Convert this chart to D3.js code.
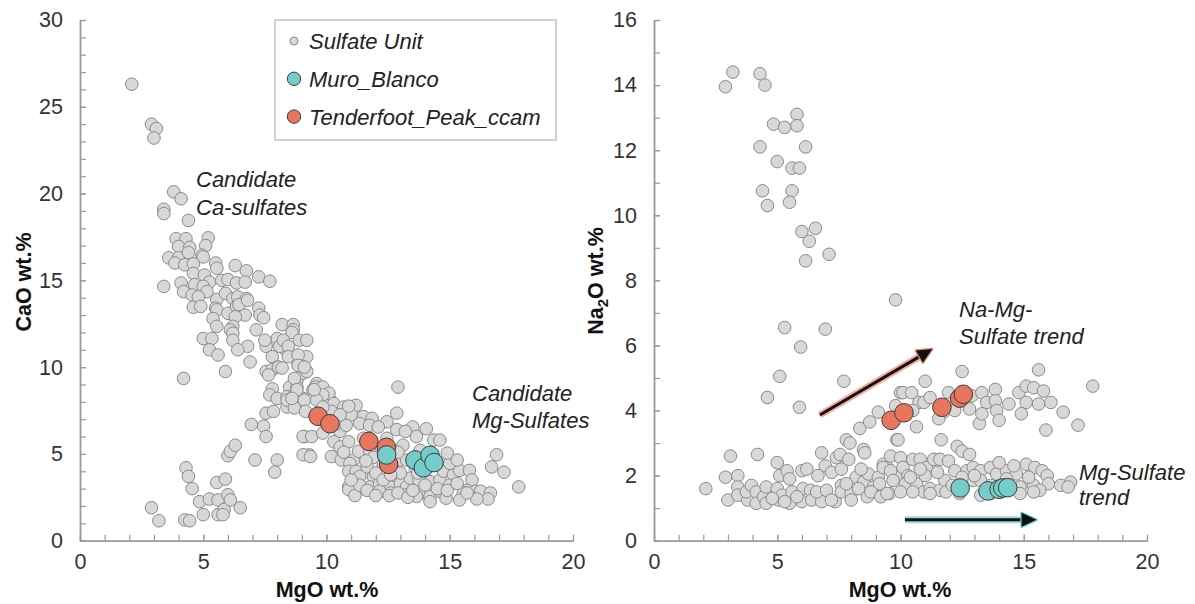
<!DOCTYPE html>
<html>
<head>
<meta charset="utf-8">
<script src="https://cdn.jsdelivr.net/npm/d3@7"></script>
<style>
body { margin: 0; background: #fff; }
svg { font-family: "Liberation Sans", Arial, Helvetica, sans-serif; }
</style>
</head>
<body>
<div id="chart"></div>
<script>
// ---- data: [MgO, CaO] and [MgO, Na2O] wt.% ----
var sulfateCaO = [
    [2.1, 26.3], [2.9, 24.0], [3.1, 23.75], [3.0, 23.2],
    [3.8, 20.1], [4.1, 19.7], [3.4, 19.1], [3.4, 18.85], [4.4, 18.45],
    [3.9, 17.4], [4.3, 17.4], [5.2, 17.45], [5.1, 17.0], [4.0, 16.95], [4.45, 16.9],
    [3.6, 16.3], [4.0, 16.3], [4.4, 16.6], [4.95, 16.45], [5.0, 16.35],
    [3.85, 16.0], [4.25, 15.9], [4.6, 15.95], [5.5, 16.0], [5.55, 15.7], [6.3, 15.85], [6.75, 15.55],
    [4.6, 15.4], [5.05, 15.3], [5.25, 14.9], [5.75, 15.0], [6.0, 15.05], [6.35, 14.85], [6.7, 14.9], [7.25, 15.2], [7.7, 14.95],
    [3.4, 14.65], [4.1, 14.85], [4.2, 14.35], [4.65, 14.75], [5.0, 14.65], [5.15, 14.35],
    [4.55, 14.15], [4.8, 14.05], [5.55, 13.9], [5.9, 14.25], [6.2, 13.95], [6.4, 14.05], [6.75, 13.95],
    [4.6, 13.45], [4.9, 13.5], [5.5, 13.4], [5.55, 13.3], [6.0, 13.1], [6.35, 13.5], [6.7, 13.0], [7.25, 13.4],
    [7.3, 13.0], [7.45, 12.85], [6.45, 13.6], [6.8, 13.85],
    [5.4, 12.8], [5.55, 12.35], [6.3, 12.9], [6.2, 12.35], [6.1, 12.15], [7.15, 12.15], [8.2, 12.45], [8.65, 12.45], [8.65, 12.15], [8.6, 12.0],
    [5.0, 11.65], [5.35, 11.65], [6.2, 11.95], [6.2, 11.55], [6.8, 11.2], [7.55, 11.2], [8.0, 11.65], [7.5, 11.55], [8.3, 11.05],
    [8.9, 11.55], [9.2, 11.55], [8.1, 11.2], [8.25, 11.55], [8.45, 11.2],
    [5.25, 11.0], [5.6, 10.7], [6.4, 11.0], [6.9, 10.3], [7.8, 10.6], [8.0, 10.0], [8.45, 10.6], [8.85, 10.2], [9.2, 10.6], [5.9, 9.75], [8.85, 10.7],
    [4.2, 9.35],
    [7.55, 9.75], [7.8, 9.85], [8.05, 10.0], [8.8, 9.25], [9.05, 9.65], [8.6, 8.95], [8.5, 8.85], [8.8, 8.85], [9.6, 9.05], [7.65, 9.55],
    [8.2, 9.95], [9.2, 9.75], [9.0, 10.05],
    [7.8, 8.75], [7.7, 8.4], [8.0, 8.2], [8.4, 8.3], [8.7, 8.4], [9.05, 8.2], [9.45, 8.7], [9.8, 8.7], [10.0, 8.4], [8.4, 7.7],
    [7.55, 7.35], [7.85, 7.45], [8.4, 8.1], [8.8, 8.2], [8.7, 7.65], [9.1, 8.1], [9.75, 8.8], [10.15, 8.1],
    [6.95, 6.7], [7.45, 6.6], [7.55, 6.0], [7.1, 4.65], [8.0, 4.65], [7.9, 3.95],
    [2.9, 1.9], [3.2, 1.15], [4.3, 4.2], [4.4, 3.7], [4.55, 3.0], [4.85, 2.25], [5.0, 1.5], [5.25, 2.4], [5.55, 3.35], [5.6, 2.35],
    [5.6, 1.5], [5.85, 1.8], [5.8, 1.5], [5.9, 3.55], [6.0, 2.65], [6.1, 2.35], [6.5, 1.9], [6.0, 4.9], [6.1, 5.15], [6.3, 5.5],
    [4.25, 1.2], [4.45, 1.15],
    [9.1, 6.0], [9.3, 4.95], [9.05, 4.95],
    [9.55, 8.85], [9.85, 8.85], [10.1, 8.5], [9.85, 8.4], [9.6, 8.1], [10.3, 7.9], [10.7, 7.7], [10.95, 7.55], [11.2, 7.8], [11.0, 7.25],
    [11.5, 7.15], [11.85, 7.05], [12.85, 7.35], [12.45, 6.85], [11.35, 6.75], [11.75, 6.65], [12.1, 6.55], [13.5, 6.55], [12.85, 6.4],
    [13.2, 6.3], [13.65, 6.0], [14.05, 6.45],
    [9.15, 7.45], [9.05, 6.0], [9.4, 6.0], [9.85, 6.2], [10.55, 6.3], [10.3, 5.7], [10.55, 5.4], [10.9, 5.7], [9.35, 4.85], [10.2, 4.85],
    [10.6, 4.65], [11.1, 4.65], [11.3, 5.15], [10.95, 4.45], [10.9, 4.0], [11.2, 4.0], [11.65, 4.25], [11.35, 3.7], [11.9, 3.7],
    [10.9, 3.1], [11.2, 3.1], [11.5, 3.0], [11.75, 3.1], [12.15, 3.3], [12.6, 3.1], [13.0, 3.3], [13.25, 3.1], [13.4, 3.6], [13.75, 3.5],
    [14.2, 3.4], [14.6, 3.5], [14.75, 4.0], [15.15, 3.8], [15.4, 4.05], [15.8, 4.05], [15.0, 4.45], [15.3, 4.65], [15.9, 3.5], [15.7, 2.9],
    [15.55, 2.75], [16.05, 2.85], [16.25, 2.85], [16.65, 2.75], [16.7, 4.25], [16.9, 4.95], [17.2, 3.95], [17.8, 3.1], [16.55, 2.4], [16.1, 2.4],
    [13.95, 2.75], [14.2, 2.55], [13.65, 2.55], [13.25, 2.65], [12.6, 2.75], [12.15, 2.85], [14.35, 5.8], [14.6, 5.8], [14.9, 5.05],
    [13.0, 4.65], [13.25, 4.65], [12.7, 4.05], [13.0, 3.9], [12.45, 5.9], [12.05, 5.05], [11.75, 5.2], [10.4, 6.75], [10.8, 6.65],
    [9.6, 7.15], [10.0, 7.15],
    [10.9, 2.95], [11.15, 2.6], [11.35, 3.2], [11.65, 2.9], [12.55, 2.6], [12.9, 2.75], [13.3, 2.5], [14.2, 2.25], [14.6, 2.85],
    [14.85, 2.45], [15.4, 2.35], [15.7, 2.75],
    [12.9, 8.85],
    [8.85, 10.1], [9.1, 10.0], [8.7, 9.35], [8.8, 8.7], [8.6, 8.2], [9.5, 8.7], [10.2, 7.45], [10.9, 7.75], [10.55, 7.25], [9.85, 7.7],
    [11.9, 4.8], [12.3, 4.4], [12.0, 3.9], [13.6, 4.2], [13.8, 5.2], [14.3, 4.4], [14.5, 3.0], [15.0, 3.2], [12.3, 3.5], [13.1, 5.5],
    [11.5, 5.9], [12.9, 5.1],
    [11.0, 3.5], [12.6, 3.8], [13.5, 2.9], [14.0, 3.2], [14.9, 2.9], [15.3, 3.3], [12.0, 2.6], [13.7, 3.9], [10.7, 5.1], [11.6, 4.6]
];
var tenderfootCaO = [[9.66, 7.17], [10.14, 6.74], [11.72, 5.72], [12.43, 5.38], [12.52, 4.4]];
var muroBlancoCaO = [[12.44, 4.94], [13.59, 4.65], [13.93, 4.2], [14.2, 4.92], [14.36, 4.5]];

var sulfateNa2O = [
    [2.9, 13.95], [3.2, 14.4], [4.3, 14.35], [4.5, 14.0], [4.85, 12.8], [5.3, 12.7], [5.8, 13.1], [5.8, 12.75], [4.3, 12.1], [6.15, 12.1],
    [5.0, 11.65], [5.6, 11.45], [5.9, 11.45], [4.4, 10.75], [4.6, 10.3], [5.6, 10.75], [5.5, 10.4], [6.0, 9.5], [6.55, 9.6], [6.3, 9.2],
    [6.15, 8.6], [7.1, 8.8], [9.8, 7.4],
    [5.3, 6.55], [6.95, 6.5], [5.95, 5.95], [5.1, 5.05], [7.7, 4.9], [4.6, 4.4], [5.9, 4.1],
    [2.1, 1.6], [2.9, 1.95], [3.1, 2.6], [3.0, 1.25], [4.2, 2.65], [5.0, 2.4], [3.4, 2.0], [6.8, 2.7], [6.95, 2.3],
    [3.4, 1.65], [3.4, 1.4], [3.8, 1.25], [3.75, 1.5], [3.95, 1.7], [4.15, 1.5], [4.15, 1.15], [4.45, 1.35], [4.55, 1.65], [4.55, 1.15],
    [5.0, 1.6], [5.05, 1.25], [5.1, 2.0], [5.2, 1.4], [5.4, 2.15], [5.5, 1.9], [5.5, 1.15], [5.6, 1.5], [6.0, 2.15], [6.2, 2.2],
    [6.05, 1.6], [6.0, 1.2], [6.35, 1.55], [6.4, 1.25], [6.65, 2.0], [6.8, 1.2], [7.2, 2.1], [7.35, 1.2], [7.4, 2.55], [7.55, 2.65],
    [7.6, 2.2], [7.6, 1.7], [7.6, 1.5], [7.9, 2.5], [7.8, 3.1], [7.95, 3.0], [8.0, 1.45], [8.0, 1.25], [8.2, 1.95], [8.35, 3.45],
    [8.5, 2.8], [8.55, 2.7], [8.5, 1.8], [8.65, 1.35], [8.7, 2.05], [8.75, 3.65], [8.9, 1.65], [9.1, 3.95], [9.1, 1.95], [9.15, 1.75],
    [9.3, 2.35], [9.45, 2.25], [9.55, 1.45], [9.85, 1.95], [9.85, 3.1], [9.8, 4.15], [10.0, 4.55],
    [4.8, 1.3], [5.3, 1.2], [5.8, 1.35], [6.6, 1.5], [7.0, 1.55], [7.2, 1.25], [7.8, 1.75], [8.3, 1.6], [8.8, 1.5], [9.2, 1.35],
    [8.4, 2.2], [9.6, 2.6],
    [12.5, 5.2], [15.6, 5.25], [17.8, 4.75], [11.0, 4.9],
    [10.1, 4.55], [10.45, 4.55], [10.75, 4.25], [10.95, 4.25], [11.2, 4.4], [11.95, 4.55], [12.0, 4.2], [12.4, 4.3], [12.9, 4.45],
    [13.3, 4.55], [13.5, 4.25], [13.85, 4.65], [13.85, 4.3], [14.4, 4.2], [14.8, 4.55], [15.1, 4.75], [15.4, 4.7], [15.8, 4.6],
    [15.1, 4.25], [15.6, 4.2], [16.1, 4.25], [16.6, 3.95], [17.2, 3.55], [15.9, 3.4], [14.9, 3.9], [13.9, 4.0], [14.0, 3.7],
    [13.2, 3.6], [13.3, 3.9], [12.8, 4.05], [11.75, 3.95], [12.2, 4.0], [11.55, 3.75], [10.5, 4.0], [10.65, 3.5], [9.9, 3.1],
    [11.65, 3.1], [12.3, 2.9], [12.5, 2.75], [12.8, 2.65],
    [9.3, 2.25], [9.6, 2.15], [10.0, 2.55], [10.1, 2.25], [10.3, 2.0], [10.5, 2.5], [10.8, 2.5], [11.05, 2.25], [11.35, 2.5],
    [11.6, 2.5], [11.95, 2.45], [12.2, 2.15], [12.7, 2.15], [12.95, 2.25], [13.25, 2.15], [13.65, 2.25], [13.9, 2.05], [14.3, 2.15],
    [14.7, 2.05], [15.1, 2.35], [15.45, 2.25], [15.75, 2.15], [15.95, 2.0], [16.0, 1.75], [16.5, 1.7], [16.9, 1.8], [16.8, 1.65],
    [9.7, 1.85], [10.2, 1.75], [10.65, 1.75], [10.95, 1.5], [11.2, 1.6], [11.6, 1.55], [11.8, 1.85], [12.95, 1.85], [13.25, 1.85],
    [13.65, 1.7], [14.3, 1.9], [14.85, 1.65], [15.4, 1.7], [15.65, 1.55],
    [9.45, 1.45], [10.0, 1.5], [10.5, 1.5], [11.2, 1.45], [11.85, 1.5], [12.4, 1.45], [13.25, 1.4], [13.65, 1.45], [14.85, 1.45], [15.4, 1.5],
    [10.4, 1.95], [11.0, 2.0], [11.5, 2.1], [12.5, 1.95], [13.0, 2.0], [14.0, 2.4], [14.6, 2.3], [15.2, 1.95], [12.1, 1.7], [10.8, 2.2]
];
var tenderfootNa2O = [[9.62, 3.7], [10.14, 3.93], [11.68, 4.1], [12.4, 4.38], [12.55, 4.5]];
var muroBlancoNa2O = [[12.42, 1.62], [13.55, 1.53], [14.0, 1.58], [14.15, 1.62], [14.35, 1.63]];

// trend arrows [start, tip] in data units
var naMgTrend = [[6.73, 3.86], [11.29, 5.89]];
var mgTrend = [[10.18, 0.64], [15.52, 0.64]];

var xTicks = [0, 5, 10, 15, 20];
var xMinor = d3.range(0, 21, 1);
var caoTicks = [0, 5, 10, 15, 20, 25, 30];
var caoMinor = d3.range(0, 31, 1);
var na2oTicks = [0, 2, 4, 6, 8, 10, 12, 14, 16];
var na2oMinor = d3.range(0, 17, 1);

var legendItems = ["Sulfate Unit", "Muro_Blanco", "Tenderfoot_Peak_ccam"];

// ---- layout ----
var w = 1195;
var h = 604;
var axisColor = "#9a9a9a";
var textColor = "#333";
var grayFill = "#d8d8d8", grayStroke = "#8a8a8a";
var cyanFill = "#74cdcb", redFill = "#e8765f", markStroke = "#3b3b3b";

var svg = d3.select("#chart")
    .append("svg")
    .attr("width", w)
    .attr("height", h);

var xLeft = d3.scaleLinear().domain([0, 20]).range([80, 573]);
var yLeft = d3.scaleLinear().domain([0, 30]).range([540.7, 20]);
var xRight = d3.scaleLinear().domain([0, 20]).range([654, 1147]);
var yRight = d3.scaleLinear().domain([0, 16]).range([540.7, 20]);

function drawAxes(xScale, yScale, yTicks, yMinor) {
    var g = svg.append("g");
    var x0 = xScale.range()[0];
    var y0 = yScale.range()[0];

    // minor ticks
    g.append("g")
        .attr("transform", "translate(0," + y0 + ")")
        .call(d3.axisBottom(xScale).tickValues(xMinor).tickSize(-6).tickSizeOuter(0).tickFormat(""));
    g.append("g")
        .attr("transform", "translate(" + x0 + ",0)")
        .call(d3.axisLeft(yScale).tickValues(yMinor).tickSize(-6).tickSizeOuter(0).tickFormat(""));

    // major ticks + labels
    g.append("g")
        .attr("class", "lab")
        .attr("transform", "translate(0," + y0 + ")")
        .call(d3.axisBottom(xScale).tickValues(xTicks).tickSize(-6).tickSizeOuter(0).tickPadding(13));
    g.append("g")
        .attr("class", "lab")
        .attr("transform", "translate(" + x0 + ",0)")
        .call(d3.axisLeft(yScale).tickValues(yTicks).tickSize(-6).tickSizeOuter(0).tickPadding(17));

    g.selectAll("path.domain").attr("stroke", axisColor).attr("stroke-width", 1.5);
    g.selectAll(".tick line").attr("stroke", axisColor).attr("stroke-width", 1.2);
    g.selectAll(".lab text")
        .attr("fill", textColor)
        .style("font-size", "21.5px")
        .style("font-family", '"Liberation Sans", Arial, sans-serif');
}

function plotPoints(data, xScale, yScale, r, fill, stroke) {
    svg.append("g").selectAll("circle")
        .data(data)
        .enter()
        .append("circle")
        .attr("cx", function (d) { return xScale(d[0]); })
        .attr("cy", function (d) { return yScale(d[1]); })
        .attr("r", r)
        .attr("fill", fill)
        .attr("stroke", stroke)
        .attr("stroke-width", 1);
}

function drawArrow(pts, xScale, yScale, glow) {
    var x1 = xScale(pts[0][0]), y1 = yScale(pts[0][1]);
    var x2 = xScale(pts[1][0]), y2 = yScale(pts[1][1]);
    var a = Math.atan2(y2 - y1, x2 - x1);
    var len = 15, half = 7;
    var bx = x2 - len * Math.cos(a), by = y2 - len * Math.sin(a);
    var g = svg.append("g");
    g.append("line")
        .attr("x1", x1).attr("y1", y1).attr("x2", bx).attr("y2", by)
        .attr("stroke", glow).attr("stroke-width", 7).attr("stroke-opacity", 0.7);
    g.append("line")
        .attr("x1", x1).attr("y1", y1).attr("x2", bx + 2 * Math.cos(a)).attr("y2", by + 2 * Math.sin(a))
        .attr("stroke", "#111").attr("stroke-width", 3);
    var head = [
        [x2, y2],
        [bx + half * Math.sin(a), by - half * Math.cos(a)],
        [bx - half * Math.sin(a), by + half * Math.cos(a)]
    ];
    g.append("polygon")
        .attr("points", head.map(function (p) { return p.join(","); }).join(" "))
        .attr("fill", "#111")
        .attr("stroke", glow)
        .attr("stroke-width", 2.5)
        .attr("stroke-linejoin", "round")
        .style("paint-order", "stroke");
}

// ---- left panel: CaO ----
drawAxes(xLeft, yLeft, caoTicks, caoMinor);
plotPoints(sulfateCaO, xLeft, yLeft, 6.3, grayFill, grayStroke);
plotPoints(tenderfootCaO, xLeft, yLeft, 9.3, redFill, markStroke);
plotPoints(muroBlancoCaO, xLeft, yLeft, 9.3, cyanFill, markStroke);

// ---- right panel: Na2O ----
drawAxes(xRight, yRight, na2oTicks, na2oMinor);
drawArrow(naMgTrend, xRight, yRight, "#f08a78");
drawArrow(mgTrend, xRight, yRight, "#6ccfcf");
plotPoints(sulfateNa2O, xRight, yRight, 6.3, grayFill, grayStroke);
plotPoints(tenderfootNa2O, xRight, yRight, 9.3, redFill, markStroke);
plotPoints(muroBlancoNa2O, xRight, yRight, 9.3, cyanFill, markStroke);

// ---- axis titles ----
svg.append("text")
    .text("MgO wt.%")
    .attr("x", 327).attr("y", 597)
    .attr("text-anchor", "middle")
    .attr("font-weight", "bold")
    .style("font-size", "21.5px")
    .attr("fill", "#111");
svg.append("text")
    .text("MgO wt.%")
    .attr("x", 900).attr("y", 597)
    .attr("text-anchor", "middle")
    .attr("font-weight", "bold")
    .style("font-size", "21.5px")
    .attr("fill", "#111");
svg.append("text")
    .text("CaO wt.%")
    .attr("transform", "translate(31,282) rotate(-90)")
    .attr("text-anchor", "middle")
    .attr("font-weight", "bold")
    .style("font-size", "21.5px")
    .attr("fill", "#111");
var naTitle = svg.append("text")
    .attr("transform", "translate(603,281) rotate(-90)")
    .attr("text-anchor", "middle")
    .attr("font-weight", "bold")
    .style("font-size", "21.5px")
    .attr("fill", "#111");
naTitle.append("tspan").text("Na");
naTitle.append("tspan").text("2").attr("dy", 5).style("font-size", "15px");
naTitle.append("tspan").text("O wt.%").attr("dy", -5);

// ---- annotations ----
var notes = [
    { lines: ["Candidate", "Ca-sulfates"], x: 196, y: 187, step: 28 },
    { lines: ["Candidate", "Mg-Sulfates"], x: 472, y: 401, step: 27 },
    { lines: ["Na-Mg-", "Sulfate trend"], x: 959, y: 317, step: 27 },
    { lines: ["Mg-Sulfate", "trend"], x: 1079, y: 480, step: 25 }
];
notes.forEach(function (n) {
    n.lines.forEach(function (t, i) {
        svg.append("text")
            .text(t)
            .attr("x", n.x)
            .attr("y", n.y + i * n.step)
            .attr("font-style", "italic")
            .style("font-size", "22px")
            .attr("fill", "#222");
    });
});

// ---- legend ----
var legend = svg.append("g");
legend.append("rect")
    .attr("x", 275).attr("y", 20)
    .attr("width", 281).attr("height", 120)
    .attr("fill", "#fff")
    .attr("stroke", "#d2d2d2")
    .attr("stroke-width", 2);
var legendStyle = [
    { r: 4, fill: grayFill, stroke: grayStroke },
    { r: 6.7, fill: cyanFill, stroke: markStroke },
    { r: 6.7, fill: redFill, stroke: markStroke }
];
legendItems.forEach(function (name, i) {
    var cy = 41 + i * 37.8;
    legend.append("circle")
        .attr("cx", 294).attr("cy", cy)
        .attr("r", legendStyle[i].r)
        .attr("fill", legendStyle[i].fill)
        .attr("stroke", legendStyle[i].stroke)
        .attr("stroke-width", 1);
    legend.append("text")
        .text(name)
        .attr("x", 309).attr("y", cy + 8)
        .attr("font-style", "italic")
        .style("font-size", "22px")
        .attr("fill", "#222");
});
</script>
</body>
</html>
